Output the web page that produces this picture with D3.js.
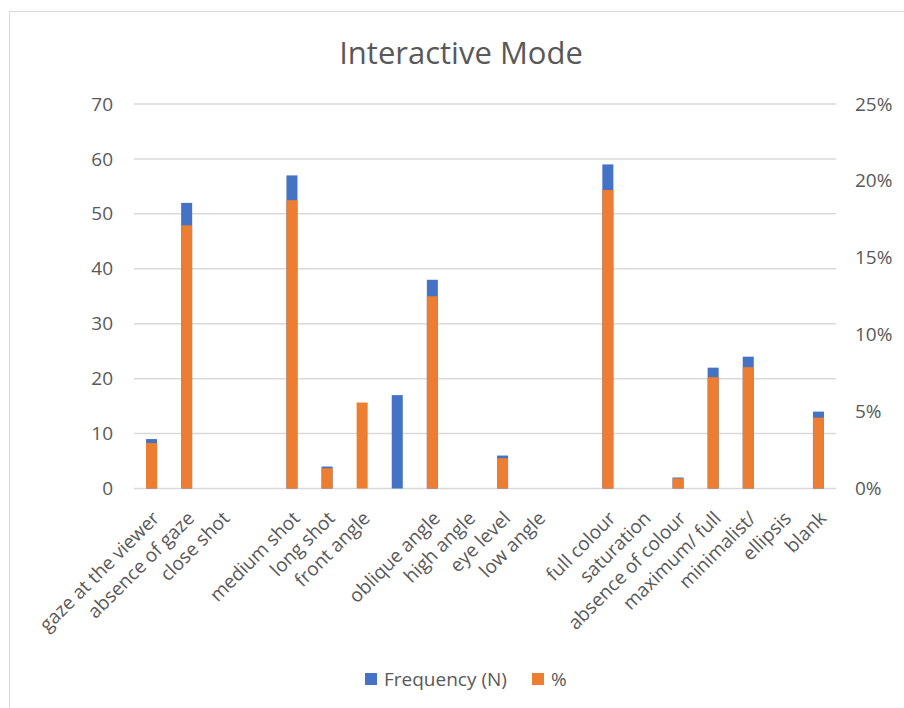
<!DOCTYPE html>
<html>
<head>
<meta charset="utf-8">
<script src="https://cdn.jsdelivr.net/npm/d3@7"></script>
<style>
  html, body { margin: 0; padding: 0; background: #fff; }
  svg { display: block; font-family: "Open Sans", "Noto Sans", sans-serif; }
</style>
</head>
<body>
<svg id="chart" width="904" height="708"></svg>
<script>
const categories = ["gaze at the viewer", "absence of gaze", "close shot", "", "medium shot", "long shot", "front angle", "", "oblique angle", "high angle", "eye level", "low angle", "", "full colour", "saturation", "absence of colour", "maximum/ full", "minimalist/", "ellipsis", "blank"];
const frequency = [9, 52, 0, null, 57, 4, 0, 17, 38, 0, 6, 0, null, 59, 0, 2, 22, 24, 0, 14];
const percent = [0.0296, 0.1711, 0, null, 0.1875, 0.0132, 0.0559, null, 0.1250, 0, 0.0197, 0, null, 0.1941, 0, 0.0066, 0.0724, 0.0789, 0, 0.0461];
const leftTicks = [0, 10, 20, 30, 40, 50, 60, 70];
const rightTicks = [0, 0.05, 0.10, 0.15, 0.20, 0.25];
const seriesNames = ["Frequency (N)", "%"];
const colors = ["#4472C4", "#ED7D31"];

const svg = d3.select("#chart");
const plot = { left: 134, right: 836, top: 104, bottom: 488.5 };
const FS = 19;

// chart border
svg.append("rect").attr("x", 9.5).attr("y", 11.5).attr("width", 920).attr("height", 720)
  .attr("fill", "none").attr("stroke", "#d9d9d9").attr("stroke-width", 1);

const idx = categories.map((d, i) => i);
const x = d3.scaleBand().domain(idx).range([plot.left, plot.right]).paddingInner(0.686).paddingOuter(0.343);
const yL = d3.scaleLinear().domain([0, 70]).range([plot.bottom, plot.top]);
const yR = d3.scaleLinear().domain([0, 0.25]).range([plot.bottom, plot.top]);

// title
svg.append("text").attr("x", 461).attr("y", 64).attr("text-anchor", "middle")
  .attr("font-size", 31).attr("fill", "#595959").text("Interactive Mode");

// gridlines
svg.append("g").selectAll("line").data(leftTicks).join("line")
  .attr("x1", plot.left).attr("x2", plot.right)
  .attr("y1", d => yL(d)).attr("y2", d => yL(d))
  .attr("stroke", "#d9d9d9").attr("stroke-width", 1.5);

// left axis
const axL = svg.append("g").attr("transform", `translate(${plot.left},0)`)
  .call(d3.axisLeft(yL).tickValues(leftTicks).tickSize(0).tickPadding(21));
axL.select(".domain").remove();
axL.selectAll("text").attr("font-size", FS).attr("fill", "#595959").attr("font-family", "Open Sans");

// right axis
const axR = svg.append("g").attr("transform", `translate(${plot.right},0)`)
  .call(d3.axisRight(yR).tickValues(rightTicks).tickFormat(d3.format(".0%")).tickSize(0).tickPadding(19));
axR.select(".domain").remove();
axR.selectAll("text").attr("font-size", FS).attr("fill", "#595959").attr("font-family", "Open Sans");

// bars: frequency (left axis)
svg.append("g").selectAll("rect").data(idx.filter(i => frequency[i])).join("rect")
  .attr("x", i => x(i)).attr("width", x.bandwidth())
  .attr("y", i => yL(frequency[i])).attr("height", i => yL(0) - yL(frequency[i]))
  .attr("fill", colors[0]);

// bars: percent (right axis), drawn on top
svg.append("g").selectAll("rect").data(idx.filter(i => percent[i])).join("rect")
  .attr("x", i => x(i)).attr("width", x.bandwidth())
  .attr("y", i => yR(percent[i])).attr("height", i => yR(0) - yR(percent[i]))
  .attr("fill", colors[1]);

// x axis labels
const axX = svg.append("g").attr("transform", `translate(0,${plot.bottom})`)
  .call(d3.axisBottom(x).tickFormat(i => categories[i]).tickSize(0));
axX.select(".domain").remove();
axX.selectAll("text")
  .attr("font-size", FS).attr("fill", "#595959").attr("font-family", "Open Sans")
  .attr("text-anchor", "end")
  .attr("dy", null)
  .attr("y", 0)
  .attr("transform", "translate(9,31) rotate(-45)");

// legend
const leg = svg.append("g");
const legX = [365, 532];
seriesNames.forEach((name, i) => {
  leg.append("rect").attr("x", legX[i]).attr("y", 673).attr("width", 12).attr("height", 12).attr("fill", colors[i]);
  leg.append("text").attr("x", legX[i] + 19).attr("y", 686).attr("font-size", FS)
    .attr("fill", "#595959").text(name);
});
</script>
</body>
</html>
